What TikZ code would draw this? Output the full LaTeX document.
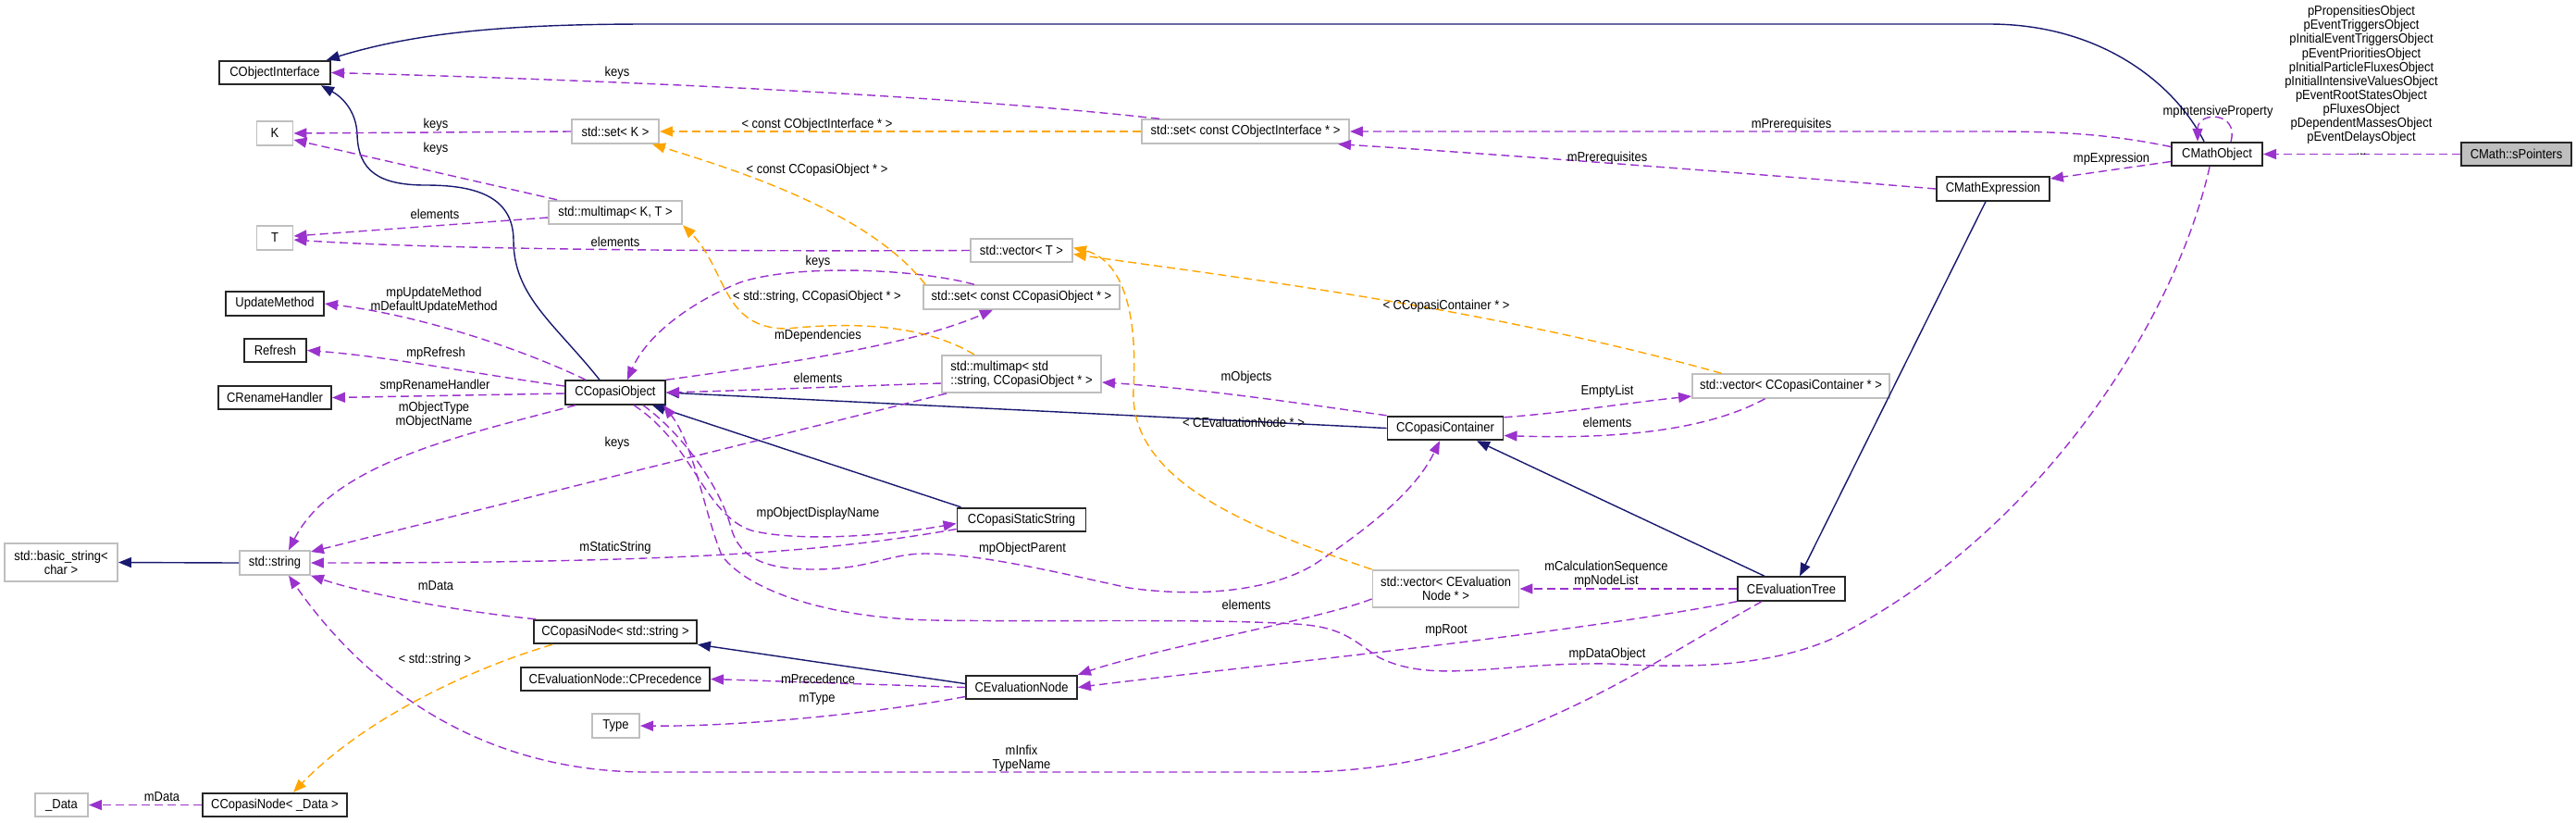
\documentclass[tikz,border=0pt]{standalone}
\usepackage{fontspec}
\setmainfont{Liberation Sans}[FakeStretch=0.9]
\usepackage{xcolor}
\usetikzlibrary{arrows.meta}
\definecolor{inhcol}{HTML}{191970}
\definecolor{usecol}{HTML}{9A32CD}
\definecolor{tplcol}{HTML}{FFA500}
\definecolor{grayline}{HTML}{BFBFBF}

\begin{document}
\begin{tikzpicture}[
  font=\fontsize{4.1}{4.3}\selectfont,
  box/.style={draw, align=center, fill=white, minimum height=0.255cm, inner xsep=0.04cm, inner ysep=0.03cm, line width=0.55pt, minimum width=#1},
  box/.default=1.2cm,
  cls/.style={box=#1, draw=black!85},
  ext/.style={box=#1, draw=grayline},
  cur/.style={box=#1, draw=black!85, fill=black!25},
  inh/.style={-{Triangle[length=0.14cm,width=0.11cm]}, inhcol, line width=0.4pt},
  usg/.style={-{Triangle[length=0.14cm,width=0.11cm]}, usecol, dash pattern=on 0.09cm off 0.05cm, line width=0.4pt},
  tpl/.style={-{Triangle[length=0.14cm,width=0.11cm]}, tplcol, dash pattern=on 0.09cm off 0.05cm, line width=0.4pt},
  lbl/.style={inner sep=0.5pt, align=center},
]
\useasboundingbox (0,0) rectangle (27.84,-8.88);
% ---- column 1
\node[ext=1.22cm, minimum height=0.41cm] (bstr) at (0.66,-6.075) {std::basic\_string<\\char >};
\node[ext=0.57cm] (data) at (0.665,-8.695) {\_Data};
% ---- column 2
\node[cls=1.20cm] (ifc) at (2.97,-0.785) {CObjectInterface};
\node[ext=0.39cm] (kk) at (2.97,-1.44) {K};
\node[ext=0.39cm] (tt) at (2.97,-2.57) {T};
\node[cls=1.06cm] (upd) at (2.97,-3.28) {UpdateMethod};
\node[cls=0.67cm] (refr) at (2.975,-3.785) {Refresh};
\node[cls=1.22cm] (ren) at (2.97,-4.295) {CRenameHandler};
\node[ext=0.76cm] (str) at (2.97,-6.08) {std::string};
\node[cls=1.56cm] (cndata) at (2.97,-8.695) {CCopasiNode< \_Data >};
% ---- column 3
\node[ext=0.94cm] (setk) at (6.65,-1.42) {std::set< K >};
\node[ext=1.44cm] (mmkt) at (6.65,-2.295) {std::multimap< K, T >};
\node[cls=1.08cm] (cobj) at (6.65,-4.24) {CCopasiObject};
\node[cls=1.76cm] (cnstr) at (6.65,-6.825) {CCopasiNode< std::string >};
\node[cls=2.04cm] (prec) at (6.65,-7.335) {CEvaluationNode::CPrecedence};
\node[ext=0.51cm] (type) at (6.655,-7.84) {Type};
% ---- column 4
\node[ext=1.10cm] (vect) at (11.04,-2.705) {std::vector< T >};
\node[ext=2.12cm] (setco) at (11.04,-3.21) {std::set< const CCopasiObject * >};
\node[ext=1.72cm, minimum height=0.40cm, align=left] (mmso) at (11.04,-4.04) {std::multimap< std\\::string, CCopasiObject * >};
\node[cls=1.39cm] (css) at (11.04,-5.615) {CCopasiStaticString};
\node[cls=1.20cm] (enode) at (11.04,-7.425) {CEvaluationNode};
% ---- column 5
\node[ext=2.24cm] (setifc) at (13.46,-1.42) {std::set< const CObjectInterface * >};
\node[cls=1.25cm] (cont) at (15.62,-4.625) {CCopasiContainer};
\node[ext=1.58cm, minimum height=0.40cm] (vecen) at (15.625,-6.36) {std::vector< CEvaluation\\Node * >};
% ---- column 6
\node[ext=2.13cm] (veccc) at (19.355,-4.17) {std::vector< CCopasiContainer * >};
\node[cls=1.16cm] (etree) at (19.36,-6.36) {CEvaluationTree};
\node[cls=1.22cm] (mexpr) at (21.54,-2.04) {CMathExpression};
% ---- column 7
\node[cls=0.98cm] (mobj) at (23.96,-1.665) {CMathObject};
\node[cur=1.19cm] (sptr) at (27.195,-1.665) {CMath::sPointers};

% inheritance
\draw[inh] ([xshift=-1.4mm]mobj.north) .. controls (23.5,-0.9) and (22.7,-0.26) .. (21.5,-0.26) -- (7.0,-0.26) .. controls (5.5,-0.26) and (4.5,-0.35) .. ([xshift=-0.5mm]ifc.north east);
\draw[inh] ([xshift=-1.7mm]cobj.north) .. controls (6.0,-3.5) and (5.55,-3.2) .. (5.55,-2.6) .. controls (5.55,-2.1) and (5.1,-2.0) .. (4.6,-2.0) .. controls (4.1,-2.0) and (3.87,-1.85) .. (3.86,-1.45) .. controls (3.85,-1.2) and (3.7,-1.05) .. ([xshift=-1.1mm]ifc.south east);
\draw[inh] (cont.west) -- (cobj.east);
\draw[inh] ([xshift=0.5mm]css.north west) -- ([xshift=-1.5mm]cobj.south east);
\draw[inh] ([xshift=-2.9mm]etree.north) -- ([xshift=3.4mm]cont.south);
\draw[inh] ([xshift=-0.8mm]mexpr.south) -- ([xshift=0.9mm]etree.north);
\draw[inh] ([yshift=0.4mm]enode.west) -- (cnstr.south east);
\draw[inh] (str.west) -- (bstr.east);

% usage
\draw[usg] ([xshift=2mm]setifc.north west) .. controls (10.0,-1.0) and (6.0,-0.85) .. (ifc.east);
\node[lbl] (l1) at (6.67,-0.79) {keys};
\draw[usg] (setk.west) -- (kk.east);
\node[lbl] (l2) at (4.71,-1.35) {keys};
\draw[usg] ([xshift=1mm]mmkt.north west) -- ([yshift=-0.7mm]kk.east);
\node[lbl] (l3) at (4.71,-1.61) {keys};
\draw[usg] ([yshift=-0.55mm]mmkt.west) -- ([yshift=0.2mm]tt.east);
\node[lbl] (l4) at (4.70,-2.31) {elements};
\draw[usg] (vect.west) .. controls (7,-2.72) and (4.5,-2.68) .. ([yshift=-0.2mm]tt.east);
\node[lbl] (l5) at (6.65,-2.61) {elements};
\draw[usg] (cobj.north east) .. controls (8.3,-3.95) and (9.8,-3.75) .. ([xshift=-3.1mm]setco.south);
\node[lbl] (l6) at (8.84,-3.63) {mDependencies};
\draw[usg] ([yshift=-1mm]mmso.west) .. controls (9.2,-4.17) and (8.0,-4.22) .. (cobj.east);
\node[lbl] (l7) at (8.84,-4.08) {elements};
\draw[usg] ([xshift=-5.1mm]setco.north) .. controls (9.9,-2.9) and (8.6,-2.85) .. (8.0,-3.05) .. controls (7.5,-3.25) and (7.0,-3.6) .. ([xshift=1.3mm]cobj.north);
\node[lbl] (l8) at (8.84,-2.83) {keys};
\draw[usg] ([xshift=0.6mm]mmso.south west) -- ([yshift=1.2mm]str.east);
\node[lbl] (l9) at (6.67,-4.79) {keys};
\draw[usg] ([xshift=2.3mm]cobj.north west) .. controls (5.6,-3.75) and (4.5,-3.4) .. (upd.east);
\node[lbl] (l10) at (4.69,-3.245) {mpUpdateMethod\\mDefaultUpdateMethod};
\draw[usg] ([yshift=0.7mm]cobj.west) .. controls (5.2,-4.05) and (4.2,-3.85) .. (refr.east);
\node[lbl] (l11) at (4.71,-3.82) {mpRefresh};
\draw[usg] ([yshift=-0.1mm]cobj.west) -- (ren.east);
\node[lbl] (l12) at (4.70,-4.17) {smpRenameHandler};
\draw[usg] ([xshift=1.2mm]cobj.south west) .. controls (5.0,-4.7) and (3.6,-5.0) .. ([xshift=1.5mm]str.north);
\node[lbl] (l13) at (4.69,-4.485) {mObjectType\\mObjectName};
\draw[usg] ([xshift=2mm]cobj.south) .. controls (7.5,-4.8) and (7.6,-5.55) .. (8.12,-5.73) .. controls (8.6,-5.85) and (9.5,-5.8) .. ([yshift=-0.4mm]css.west);
\node[lbl] (l14) at (8.84,-5.55) {mpObjectDisplayName};
\draw[usg] ([yshift=-1mm]css.west) .. controls (9.0,-5.95) and (7.5,-6.08) .. (str.east);
\node[lbl] (l15) at (6.65,-5.92) {mStaticString};
\draw[usg] ([xshift=-2.5mm]cobj.south east) .. controls (7.4,-4.7) and (7.8,-5.3) .. (7.9,-5.7) .. controls (8.0,-6.05) and (8.3,-6.15) .. (8.8,-6.15) .. controls (9.4,-6.15) and (9.6,-5.98) .. (10.0,-5.98) .. controls (10.6,-5.98) and (11.5,-6.2) .. (12.2,-6.35) .. controls (12.9,-6.45) and (13.7,-6.4) .. (14.2,-6.1) .. controls (14.8,-5.7) and (15.3,-5.3) .. ([xshift=-0.6mm]cont.south);
\node[lbl] (l16) at (11.05,-5.93) {mpObjectParent};
\draw[usg] ([xshift=-0.8mm]mobj.south) .. controls (23.5,-3.5) and (22.0,-5.8) .. (19.8,-6.9) .. controls (19.0,-7.25) and (18.0,-7.2) .. (17.4,-7.17) .. controls (16.2,-7.15) and (15.5,-7.4) .. (14.9,-7.1) .. controls (14.6,-6.9) and (14.5,-6.77) .. (14.0,-6.74) .. controls (13.0,-6.68) and (11.5,-6.72) .. (10.1,-6.70) .. controls (9.0,-6.68) and (8.1,-6.4) .. (7.8,-6.0) .. controls (7.6,-5.5) and (7.5,-4.8) .. ([xshift=-0.3mm]cobj.south east);
\node[lbl] (l17) at (17.37,-7.07) {mpDataObject};
\draw[usg] ([xshift=0.3mm]cnstr.north west) .. controls (4.9,-6.6) and (3.9,-6.4) .. (str.south east);
\node[lbl] (l18) at (4.71,-6.33) {mData};
\draw[usg] ([xshift=-3.2mm]etree.south) .. controls (17.6,-7.3) and (16.2,-8.34) .. (14.0,-8.34) -- (7.0,-8.34) .. controls (5.0,-8.34) and (3.8,-7.2) .. ([xshift=1.5mm]str.south);
\node[lbl] (l19) at (11.04,-8.195) {mInfix\\TypeName};
\draw[usg] (enode.west) -- (prec.east);
\node[lbl] (l20) at (8.84,-7.33) {mPrecedence};
\draw[usg] ([yshift=-1mm]enode.west) .. controls (9.5,-7.7) and (8.0,-7.85) .. (type.east);
\node[lbl] (l21) at (8.83,-7.55) {mType};
\draw[usg] ([yshift=1mm]vecen.south west) .. controls (14.3,-6.68) and (12.5,-7.0) .. (enode.north east);
\node[lbl] (l22) at (13.47,-6.53) {elements};
\draw[usg] (etree.south west) .. controls (17.0,-6.85) and (13.0,-7.25) .. (enode.east);
\node[lbl] (l23) at (15.63,-6.81) {mpRoot};
\draw[usg] (etree.west) -- (vecen.east);
\node[lbl] (l24) at (17.36,-6.20) {mCalculationSequence\\mpNodeList};
\draw[usg] (cont.north west) .. controls (14.0,-4.35) and (13.0,-4.2) .. ([yshift=-0.9mm]mmso.east);
\node[lbl] (l25) at (13.47,-4.08) {mObjects};
\draw[usg] ([yshift=-0.2mm]cont.north east) .. controls (17.0,-4.45) and (17.6,-4.35) .. ([yshift=-1.1mm]veccc.west);
\node[lbl] (l26) at (17.37,-4.23) {EmptyList};
\draw[usg] ([xshift=-2.8mm]veccc.south) .. controls (18.5,-4.62) and (17.6,-4.75) .. ([yshift=-0.8mm]cont.east);
\node[lbl] (l27) at (17.37,-4.56) {elements};
\draw[usg] ([yshift=0.8mm]mobj.west) .. controls (22.8,-1.45) and (22.3,-1.42) .. (21.5,-1.42) -- (setifc.east);
\node[lbl] (l28) at (19.36,-1.35) {mPrerequisites};
\draw[usg] (mexpr.west) .. controls (19.5,-1.92) and (16.0,-1.65) .. ([xshift=-1.3mm]setifc.south east);
\node[lbl] (l29) at (17.37,-1.71) {mPrerequisites};
\draw[usg] ([yshift=-0.8mm]mobj.west) -- ([yshift=1.1mm]mexpr.east);
\node[lbl] (l30) at (22.82,-1.72) {mpExpression};
\draw[usg] ([xshift=1.5mm]mobj.north) .. controls (24.2,-1.2) and (23.75,-1.2) .. ([xshift=-2.1mm]mobj.north);
\node[lbl] (l31) at (23.97,-1.21) {mpIntensiveProperty};
\draw[usg] (sptr.west) -- (mobj.east);
\node[lbl] (l32) at (25.52,-0.87) {pPropensitiesObject\\pEventTriggersObject\\pInitialEventTriggersObject\\pEventPrioritiesObject\\pInitialParticleFluxesObject\\pInitialIntensiveValuesObject\\pEventRootStatesObject\\pFluxesObject\\pDependentMassesObject\\pEventDelaysObject\\...};
\draw[usg] (cndata.west) -- (data.east);
\node[lbl] (l33) at (1.75,-8.61) {mData};

% template instances
\draw[tpl] (setifc.west) -- (setk.east);
\node[lbl] (t1) at (8.83,-1.35) {< const CObjectInterface * >};
\draw[tpl] ([xshift=0.3mm]setco.north west) .. controls (9.4,-2.3) and (8.0,-1.85) .. ([xshift=-0.8mm]setk.south east);
\node[lbl] (t2) at (8.83,-1.84) {< const CCopasiObject * >};
\draw[tpl] ([xshift=-5.1mm]mmso.north) .. controls (9.9,-3.45) and (9.0,-3.5) .. (8.5,-3.55) .. controls (7.8,-3.55) and (7.85,-2.9) .. (mmkt.south east);
\node[lbl] (t3) at (8.83,-3.21) {< std::string, CCopasiObject * >};
\draw[tpl] ([xshift=-7.5mm]veccc.north) .. controls (16.0,-3.3) and (13.0,-2.95) .. ([yshift=-0.4mm]vect.east);
\node[lbl] (t4) at (15.63,-3.31) {< CCopasiContainer * >};
\draw[tpl] (vecen.north west) .. controls (13.5,-5.7) and (12.2,-5.2) .. (12.25,-4.2) .. controls (12.3,-3.3) and (12.1,-2.8) .. ([yshift=0.3mm]vect.east);
\node[lbl] (t5) at (13.44,-4.56) {< CEvaluationNode * >};
\draw[tpl] ([xshift=2.1mm]cnstr.south west) .. controls (5.0,-7.25) and (3.9,-7.8) .. ([xshift=2mm]cndata.north);
\node[lbl] (t6) at (4.70,-7.13) {< std::string >};
\end{tikzpicture}
\end{document}
